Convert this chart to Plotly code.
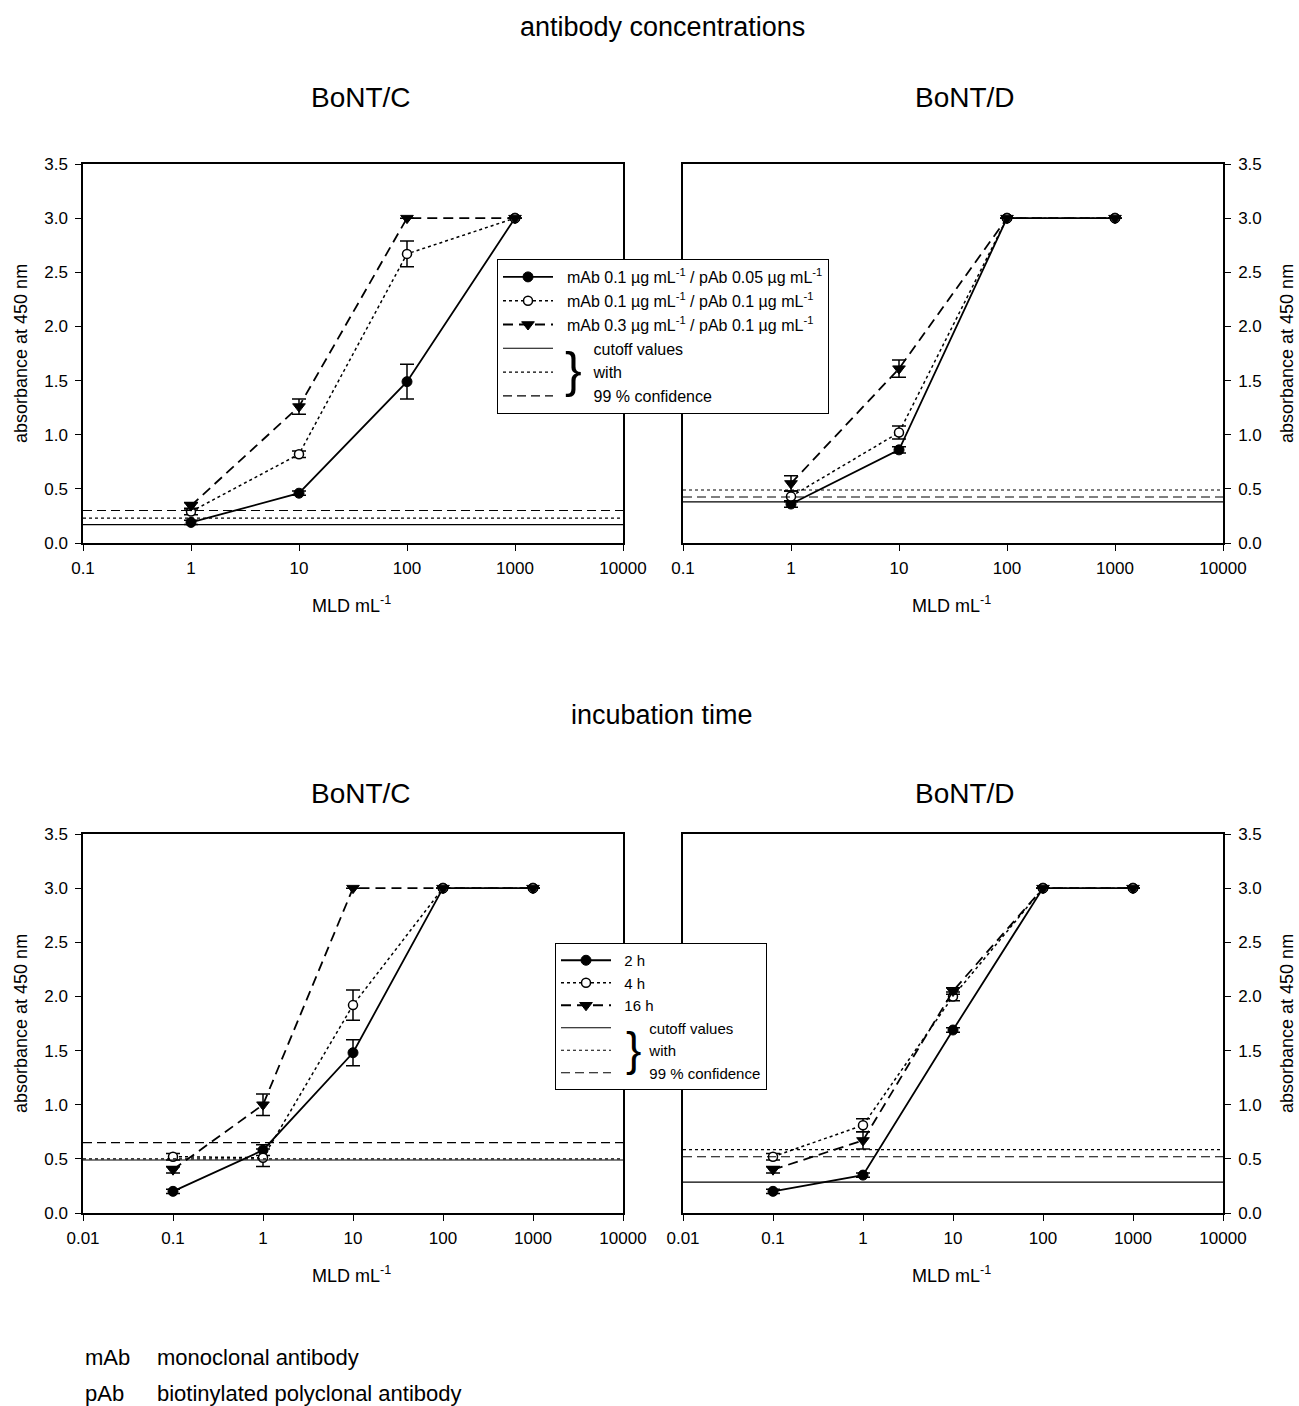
import math
import plotly.graph_objects as go

# ---------------- data ----------------
# top row: antibody concentrations
x_conc = [1, 10, 100, 1000]
conc_names = ["mAb 0.1 µg mL<sup>-1</sup> / pAb 0.05 µg mL<sup>-1</sup>",
              "mAb 0.1 µg mL<sup>-1</sup> / pAb 0.1 µg mL<sup>-1</sup>",
              "mAb 0.3 µg mL<sup>-1</sup> / pAb 0.1 µg mL<sup>-1</sup>"]
conc_C = [[0.19, 0.46, 1.49, 3.0], [0.29, 0.82, 2.67, 3.0], [0.345, 1.26, 3.0, 3.0]]
conc_C_err = [[0.02, 0.02, 0.16, 0], [0.03, 0.03, 0.12, 0], [0.03, 0.07, 0, 0]]
conc_D = [[0.36, 0.86, 3.0, 3.0], [0.43, 1.02, 3.0, 3.0], [0.55, 1.61, 3.0, 3.0]]
conc_D_err = [[0.03, 0.03, 0, 0], [0.05, 0.06, 0, 0], [0.07, 0.08, 0, 0]]
cut_conc_C = [0.17, 0.23, 0.30]   # solid, dotted, dashed
cut_conc_D = [0.38, 0.49, 0.425]

# bottom row: incubation time
x_inc = [0.1, 1, 10, 100, 1000]
inc_names = ["2 h", "4 h", "16 h"]
inc_C = [[0.20, 0.58, 1.48, 3.0, 3.0], [0.52, 0.51, 1.92, 3.0, 3.0], [0.40, 1.00, 3.0, 3.0, 3.0]]
inc_C_err = [[0.02, 0.05, 0.12, 0, 0], [0.03, 0.08, 0.14, 0, 0], [0.03, 0.10, 0, 0, 0]]
inc_D = [[0.20, 0.35, 1.69, 3.0, 3.0], [0.52, 0.81, 2.00, 3.0, 3.0], [0.40, 0.67, 2.05, 3.0, 3.0]]
inc_D_err = [[0.02, 0.02, 0.02, 0, 0], [0.03, 0.06, 0.04, 0, 0], [0.03, 0.08, 0.03, 0, 0]]
cut_inc_C = [0.49, 0.50, 0.65]
cut_inc_D = [0.285, 0.585, 0.52]

cut_names = ["cutoff values", "with", "99 % confidence"]
xticks_top = [0.1, 1, 10, 100, 1000, 10000]
xticks_bot = [0.01, 0.1, 1, 10, 100, 1000, 10000]
yticks = [0.0, 0.5, 1.0, 1.5, 2.0, 2.5, 3.0, 3.5]

# ---------------- styling ----------------
W, H = 1299, 1406
FONT = "Liberation Sans, Arial, Helvetica, sans-serif"
NB = "\u00a0"
series_style = [
    dict(symbol="circle", color="black", lw=1.8, dash="solid", size=10, mline=1),
    dict(symbol="circle", color="white", lw=1.5, dash="dot", size=9, mline=1.5),
    dict(symbol="triangle-down", color="black", lw=1.8, dash="10px,6px", size=11, mline=1),
]
cut_dash = ["solid", "dot", "9px,5px"]

fig = go.Figure()


def add_panel(xa, ya, xs, ys, errs, names, cuts, xr, legend, showlegend, pad_s, pad_c):
    for i in range(3):
        st = series_style[i]
        fig.add_trace(go.Scatter(
            x=xs, y=ys[i], mode="lines+markers", name=NB * pad_s + names[i],
            line=dict(color="black", width=st["lw"], dash=st["dash"]),
            marker=dict(symbol=st["symbol"], color=st["color"], size=st["size"],
                        line=dict(color="black", width=st["mline"])),
            error_y=dict(type="data", array=errs[i], visible=True,
                         color="black", thickness=1.5, width=7),
            xaxis=xa, yaxis=ya, legend=legend, showlegend=showlegend,
            legendrank=i + 1))
    for i in range(3):
        fig.add_trace(go.Scatter(
            x=[xr[0], xr[-1]], y=[cuts[i], cuts[i]], mode="lines",
            line=dict(color="black", width=1.1, dash=cut_dash[i]),
            name=NB * pad_c + cut_names[i], xaxis=xa, yaxis=ya,
            legend=legend, showlegend=showlegend, legendrank=10 + i,
            hoverinfo="skip"))


add_panel("x", "y", x_conc, conc_C, conc_C_err, conc_names, cut_conc_C, xticks_top, "legend", True, 2, 8)
add_panel("x2", "y2", x_conc, conc_D, conc_D_err, conc_names, cut_conc_D, xticks_top, "legend", False, 2, 8)
add_panel("x3", "y3", x_inc, inc_C, inc_C_err, inc_names, cut_inc_C, xticks_bot, "legend2", True, 2, 8)
add_panel("x4", "y4", x_inc, inc_D, inc_D_err, inc_names, cut_inc_D, xticks_bot, "legend2", False, 2, 8)


def px_x(a, b):
    return [a / W, b / W]


def px_y(top, bottom):
    return [1 - bottom / H, 1 - top / H]


def fmt(v):
    return ("%g" % v)


common_x = dict(type="log", showline=True, linecolor="black", linewidth=1.5, mirror=True,
                ticks="outside", ticklen=6, tickwidth=1.2, tickcolor="black",
                showgrid=False, zeroline=False, automargin=False, ticklabelstandoff=3,
                tickfont=dict(family=FONT, size=17, color="black"))
common_y = dict(range=[0, 3.5], showline=True, linecolor="black", linewidth=1.5, mirror=True,
                ticks="outside", ticklen=6, tickwidth=1.2, tickcolor="black",
                showgrid=False, zeroline=False, tickvals=yticks, automargin=False,
                ticklabelstandoff=4,
                ticktext=["%.1f" % v for v in yticks],
                tickfont=dict(family=FONT, size=17, color="black"))

dom_top = px_y(164, 543)
dom_bot = px_y(834, 1213)
dom_l = px_x(83, 623)
dom_r = px_x(683, 1223)


def xr(t):
    return [math.log10(t[0]), math.log10(t[-1])]


fig.update_layout(
    xaxis=dict(common_x, domain=dom_l, anchor="y", range=xr(xticks_top),
               tickvals=xticks_top, ticktext=[fmt(v) for v in xticks_top]),
    yaxis=dict(common_y, domain=dom_top, anchor="x", side="left"),
    xaxis2=dict(common_x, domain=dom_r, anchor="y2", range=xr(xticks_top),
                tickvals=xticks_top, ticktext=[fmt(v) for v in xticks_top]),
    yaxis2=dict(common_y, domain=dom_top, anchor="x2", side="right"),
    xaxis3=dict(common_x, domain=dom_l, anchor="y3", range=xr(xticks_bot),
                tickvals=xticks_bot, ticktext=[fmt(v) for v in xticks_bot]),
    yaxis3=dict(common_y, domain=dom_bot, anchor="x3", side="left"),
    xaxis4=dict(common_x, domain=dom_r, anchor="y4", range=xr(xticks_bot),
                tickvals=xticks_bot, ticktext=[fmt(v) for v in xticks_bot]),
    yaxis4=dict(common_y, domain=dom_bot, anchor="x4", side="right"),
)

legend_common = dict(bgcolor="white", bordercolor="black", borderwidth=1,
                     xanchor="left", yanchor="top", tracegroupgap=0,
                     traceorder="normal", itemwidth=50)
fig.update_layout(
    legend=dict(legend_common, x=497 / W, y=1 - 259 / H,
                font=dict(family=FONT, size=16, color="black")),
    legend2=dict(legend_common, x=555 / W, y=1 - 943 / H,
                 font=dict(family=FONT, size=15, color="black")),
)

ann = []


def txt(x, y, s, size, anchor="center", angle=0):
    ann.append(dict(x=x / W, y=1 - y / H, xref="paper", yref="paper", text=s, showarrow=False,
                    xanchor=anchor, yanchor="middle", textangle=angle,
                    font=dict(family=FONT, size=size, color="black")))


txt(662, 27, "antibody concentrations", 27)
txt(361, 97, "BoNT/C", 28)
txt(965, 97, "BoNT/D", 28)
txt(662, 715, "incubation time", 27)
txt(361, 793, "BoNT/C", 28)
txt(965, 793, "BoNT/D", 28)
# axis titles
for yc in [354, 1024]:
    txt(21, yc, "absorbance at 450 nm", 18, angle=-90)
    txt(1287, yc, "absorbance at 450 nm", 18, angle=-90)
txt(351, 604, "MLD mL<sup>-1</sup>", 18)
txt(951, 604, "MLD mL<sup>-1</sup>", 18)
txt(351, 1274, "MLD mL<sup>-1</sup>", 18)
txt(951, 1274, "MLD mL<sup>-1</sup>", 18)
# footnotes
txt(83, 1357, "mAb", 22, "left")
txt(155, 1357, "monoclonal antibody", 22, "left")
txt(83, 1393, "pAb", 22, "left")
txt(155, 1393, "biotinylated polyclonal antibody", 22, "left")
# braces in legends
txt(573, 370, "}", 50)
txt(633, 1049, "}", 46)
fig.update_layout(annotations=ann)

fig.update_layout(width=W, height=H, margin=dict(l=0, r=0, t=0, b=0, autoexpand=False),
                  paper_bgcolor="white", plot_bgcolor="white",
                  font=dict(family=FONT, color="black"))

fig.write_html("out.html", config={"displayModeBar": False},
               post_script="document.body.style.margin='0';")
